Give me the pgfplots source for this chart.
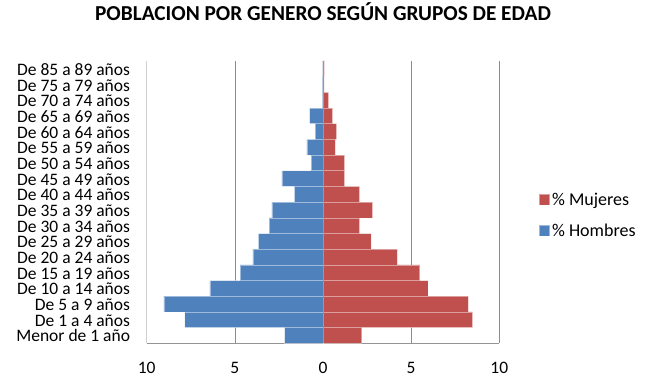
\documentclass[border=0pt]{standalone}
\usepackage{pgfplots}
\pgfplotsset{compat=1.18}
\usepackage{fontspec}
\setmainfont{Carlito}
\definecolor{hblue}{HTML}{4F81BD}
\definecolor{mred}{HTML}{C0504D}
\begin{document}
\begin{tikzpicture}
\path[use as bounding box] (0,0) rectangle (649pt,385pt);
\begin{axis}[
  scale only axis,
  width=352.6pt, height=282.3pt,
  at={(146.7pt,41.7pt)}, anchor=south west,
  xmin=-10, xmax=10, ymin=-0.5, ymax=17.5,
  xbar, bar width=1, bar shift=0pt,
  axis x line*=bottom, axis y line*=left,
  x axis line style={draw=black!42},
  y axis line style={draw=black!18},
  axis line style={-},
  xtick={-10,-5,0,5,10},
  xticklabels={10,5,0,5,10},
  ytick={0,...,17},
  yticklabels={Menor de 1 año,De 1 a 4 años,De 5 a 9 años,De 10 a 14 años,De 15 a 19 años,De 20 a 24 años,De 25 a 29 años,De 30 a 34 años,De 35 a 39 años,De 40 a 44 años,De 45 a 49 años,De 50 a 54 años,De 55 a 59 años,De 60 a 64 años,De 65 a 69 años,De 70 a 74 años,De 75 a 79 años,De 85 a 89 años},
  major tick length=0pt,
  /pgf/number format/assume math mode=true,
  xmajorgrids, major grid style={draw=black!45, line width=0.6pt},
  xticklabel style={font=\fontsize{17.5}{20}\selectfont, inner sep=0pt, anchor=base, yshift=-30pt},
  yticklabel style={font=\fontsize{17.5}{20}\selectfont, inner sep=0pt, text height=9pt, text depth=2pt, anchor=east, xshift=-16.5pt, yshift=-3pt},
  title={POBLACION POR GENERO SEGÚN GRUPOS DE EDAD},
  title style={font=\fontsize{21.3}{24}\selectfont\bfseries, at={(0.5,1)}, anchor=base, yshift=34pt, inner sep=0pt},
  legend style={draw=none, fill=none, at={(1.112,0.453)}, anchor=west, font=\fontsize{18}{20}\selectfont, row sep=13pt, inner sep=0pt, cells={anchor=west}},
  legend image code/.code={\fill[#1] (0pt,-5pt) rectangle (10.5pt,5.5pt);},
]
\addplot[fill=mred, draw=white, draw opacity=0.45, line width=0.6pt] coordinates {
(2.20,0) (8.48,1) (8.25,2) (5.95,3) (5.49,4) (4.22,5) (2.73,6) (2.08,7) (2.82,8) (2.08,9) (1.23,10) (1.23,11) (0.70,12) (0.77,13) (0.55,14) (0.32,15) (0.07,16) (0.08,17)};
\addlegendentry{\% Mujeres}
\addplot[fill=hblue, draw=white, draw opacity=0.45, line width=0.6pt] coordinates {
(-2.18,0) (-7.84,1) (-9.02,2) (-6.42,3) (-4.70,4) (-3.98,5) (-3.66,6) (-3.05,7) (-2.90,8) (-1.63,9) (-2.33,10) (-0.68,11) (-0.91,12) (-0.45,13) (-0.76,14) (-0.04,15) (-0.03,16) (-0.02,17)};
\addlegendentry{\% Hombres}
\addplot[xbar=false, sharp plot, draw=black!40, line width=0.6pt, forget plot] coordinates {(0,-0.5) (0,17.5)};
\end{axis}
\end{tikzpicture}
\end{document}
